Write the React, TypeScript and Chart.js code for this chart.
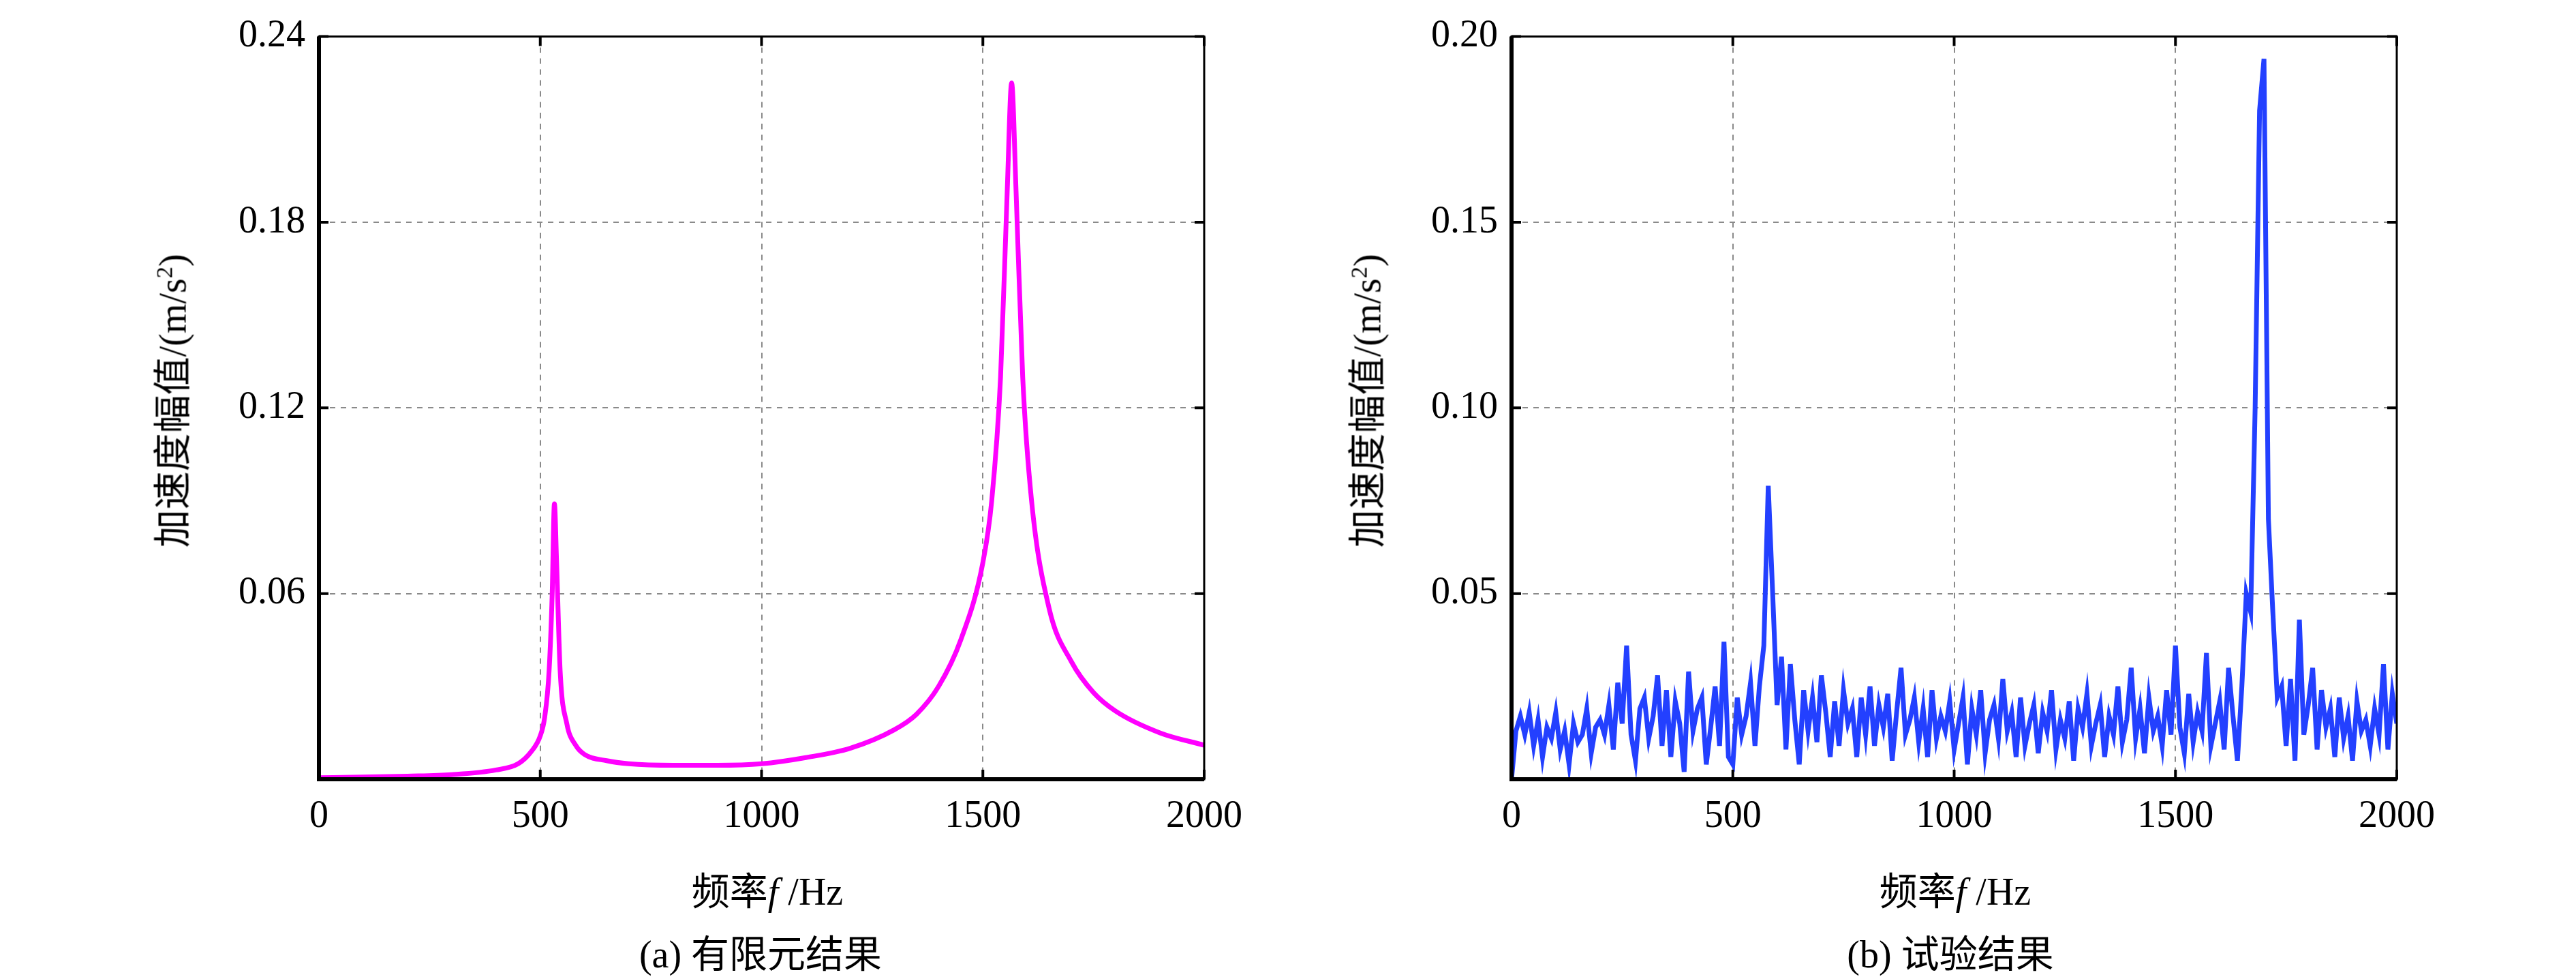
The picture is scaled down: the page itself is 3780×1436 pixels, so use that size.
import React, { useEffect, useRef } from "react";
import { Chart, registerables } from "chart.js";
Chart.register(...registerables);

const feFreq = [0, 100, 200, 300, 400, 450, 480, 500, 510, 520, 527, 532, 537, 545, 560, 580, 600, 650, 700, 800, 900, 1000, 1100, 1200, 1300, 1350, 1400, 1450, 1500, 1520, 1540, 1555, 1565, 1575, 1590, 1610, 1650, 1700, 1750, 1800, 1900, 2000];
const feAmp = [0.0005, 0.0007, 0.001, 0.0015, 0.003, 0.005, 0.009, 0.014, 0.02, 0.035, 0.06, 0.089, 0.07, 0.035, 0.018, 0.011, 0.008, 0.006, 0.005, 0.0045, 0.0045, 0.005, 0.007, 0.01, 0.016, 0.021, 0.03, 0.045, 0.07, 0.09, 0.13, 0.19, 0.225, 0.19, 0.13, 0.09, 0.055, 0.038, 0.028, 0.022, 0.015, 0.011];

const expStepHz = 10;
const expAmp = [
  0.0, 0.013, 0.017, 0.012, 0.018, 0.009, 0.016, 0.006, 0.014, 0.011, 0.018, 0.008, 0.013, 0.004, 0.015, 0.010, 0.012, 0.019, 0.007, 0.014,
  0.016, 0.012, 0.020, 0.008, 0.026, 0.015, 0.036, 0.012, 0.005, 0.019, 0.022, 0.011, 0.017, 0.028, 0.009, 0.024, 0.006, 0.021, 0.015, 0.002,
  0.029, 0.013, 0.019, 0.022, 0.004, 0.014, 0.025, 0.009, 0.037, 0.006, 0.004, 0.022, 0.012, 0.017, 0.026, 0.009, 0.025, 0.036, 0.079, 0.050,
  0.020, 0.033, 0.008, 0.031, 0.016, 0.004, 0.024, 0.013, 0.022, 0.010, 0.028, 0.018, 0.006, 0.021, 0.009, 0.024, 0.015, 0.019, 0.006, 0.022,
  0.012, 0.025, 0.009, 0.020, 0.014, 0.023, 0.005, 0.018, 0.030, 0.012, 0.016, 0.022, 0.010, 0.019, 0.006, 0.024, 0.011, 0.017, 0.013, 0.021,
  0.008, 0.015, 0.022, 0.004, 0.019, 0.012, 0.024, 0.007, 0.016, 0.020, 0.011, 0.027, 0.013, 0.018, 0.006, 0.022, 0.009, 0.015, 0.020, 0.007,
  0.018, 0.013, 0.024, 0.008, 0.016, 0.011, 0.021, 0.005, 0.019, 0.014, 0.023, 0.009, 0.015, 0.020, 0.006, 0.017, 0.012, 0.025, 0.010, 0.016,
  0.030, 0.011, 0.019, 0.007, 0.022, 0.013, 0.017, 0.009, 0.024, 0.012, 0.036, 0.014, 0.007, 0.023, 0.010, 0.018, 0.013, 0.034, 0.009, 0.015,
  0.021, 0.008, 0.030, 0.017, 0.005, 0.025, 0.050, 0.045, 0.100, 0.180, 0.194, 0.070, 0.045, 0.022, 0.025, 0.009, 0.027, 0.005, 0.043, 0.012,
  0.020, 0.030, 0.008, 0.024, 0.014, 0.019, 0.006, 0.022, 0.011, 0.017, 0.005, 0.021, 0.013, 0.016, 0.009, 0.019, 0.012, 0.031, 0.008, 0.023,
  0.015,
];

const xTicks = [0, 500, 1000, 1500, 2000];
const feYTicks = [0.06, 0.12, 0.18, 0.24];
const expYTicks = [0.05, 0.1, 0.15, 0.2];

const SERIF = "'Liberation Serif', 'Times New Roman', serif";
const CJK = "'Noto Sans CJK SC', sans-serif";

const boxPlugin = {
  id: "box",
  afterDraw(chart: any) {
    const { ctx, chartArea: a, scales } = chart;
    ctx.save();
    ctx.strokeStyle = "#000";
    ctx.lineWidth = 3;
    ctx.strokeRect(a.left, a.top, a.right - a.left, a.bottom - a.top);
    ctx.lineWidth = 6;
    ctx.beginPath();
    ctx.moveTo(a.left, a.top); ctx.lineTo(a.left, a.bottom); ctx.lineTo(a.right, a.bottom);
    ctx.stroke();
    ctx.lineWidth = 4;
    const L = 14;
    scales.x.ticks.forEach((t: any) => {
      const px = scales.x.getPixelForValue(t.value);
      ctx.beginPath();
      ctx.moveTo(px, a.bottom); ctx.lineTo(px, a.bottom - L);
      ctx.moveTo(px, a.top); ctx.lineTo(px, a.top + L);
      ctx.stroke();
    });
    scales.y.ticks.forEach((t: any) => {
      const py = scales.y.getPixelForValue(t.value);
      ctx.beginPath();
      ctx.moveTo(a.left, py); ctx.lineTo(a.left + L, py);
      ctx.moveTo(a.right, py); ctx.lineTo(a.right - L, py);
      ctx.stroke();
    });
    ctx.restore();
  },
};

function Panel(props: { points: { x: number; y: number }[]; color: string; yMax: number; yTicks: number[]; digits: number; smooth: boolean }) {
  const ref = useRef<HTMLCanvasElement>(null);
  useEffect(() => {
    const grid = { color: "#8a8a8a", lineWidth: 2, drawTicks: false };
    const chart = new Chart(ref.current!, {
      type: "line",
      data: { datasets: [{ data: props.points, borderColor: props.color, borderWidth: 7, pointRadius: 0, tension: props.smooth ? 0.4 : 0, cubicInterpolationMode: props.smooth ? "monotone" : "default" } as any] },
      options: {
        animation: false,
        responsive: false,
        plugins: { legend: { display: false }, tooltip: { enabled: false } },
        layout: { padding: { left: 0, top: 14, right: 133, bottom: 0 } },
        scales: {
          x: {
            type: "linear", min: 0, max: 2000,
            afterBuildTicks: (s: any) => { s.ticks = xTicks.map((v) => ({ value: v })); },
            afterFit: (s: any) => { s.height = 293; },
            grid: grid as any,
            border: { display: false, dash: [8, 8] } as any,
            ticks: { color: "#000", font: { family: SERIF, size: 56 }, padding: 22, maxRotation: 0, callback: (v: any) => String(v) },
          },
          y: {
            type: "linear", min: 0, max: props.yMax,
            afterBuildTicks: (s: any) => { s.ticks = props.yTicks.map((v) => ({ value: v })); },
            afterFit: (s: any) => { s.width = 468; },
            grid: grid as any,
            border: { display: false, dash: [8, 8] } as any,
            ticks: { color: "#000", font: { family: SERIF, size: 56 }, padding: 20, callback: (v: any) => Number(v).toFixed(props.digits) },
          },
        },
      },
      plugins: [boxPlugin],
    });
    return () => chart.destroy();
  }, []);
  return <canvas ref={ref} width={1900} height={1436} style={{ width: 1900, height: 1436, display: "block" }} />;
}

const abs = (s: React.CSSProperties): React.CSSProperties => ({ position: "absolute", whiteSpace: "nowrap", color: "#000", ...s });

function XTitle({ cx }: { cx: number }) {
  return (
    <div style={abs({ left: cx, top: 1302, transform: "translate(-50%,-50%)", fontSize: 56 })}>
      <span style={{ fontFamily: CJK }}>频率</span>
      <span style={{ fontFamily: SERIF, fontStyle: "italic" }}>f</span>
      <span style={{ fontFamily: SERIF }}> /Hz</span>
    </div>
  );
}
function YTitle({ cx }: { cx: number }) {
  return (
    <div style={abs({ left: cx, top: 588, transform: "translate(-50%,-50%) rotate(-90deg)", fontSize: 56 })}>
      <span style={{ fontFamily: CJK }}>加速度幅值</span>
      <span style={{ fontFamily: SERIF }}>/(m/s<sup style={{ fontSize: 34 }}>2</sup>)</span>
    </div>
  );
}

export default function App() {
  const fePts = feFreq.map((f, i) => ({ x: f, y: feAmp[i] }));
  const expPts = expAmp.map((v, i) => ({ x: i * expStepHz, y: v }));
  return (
    <div style={{ position: "absolute", left: 0, top: 0, width: 3780, height: 1436, background: "#fff", overflow: "hidden" }}>
      <div style={abs({ left: 0, top: 0 })}>
        <Panel points={fePts} color="#ff00ff" yMax={0.24} yTicks={feYTicks} digits={2} smooth={true} />
      </div>
      <div style={abs({ left: 1750, top: 0 })}>
        <Panel points={expPts} color="#2340ff" yMax={0.2} yTicks={expYTicks} digits={2} smooth={false} />
      </div>
      <XTitle cx={1126} />
      <XTitle cx={2869} />
      <YTitle cx={248} />
      <YTitle cx={2001} />
      <div style={abs({ left: 1116, top: 1394, transform: "translate(-50%,-50%)", fontSize: 56 })}>
        <span style={{ fontFamily: SERIF }}>(a) </span><span style={{ fontFamily: CJK }}>有限元结果</span>
      </div>
      <div style={abs({ left: 2862, top: 1394, transform: "translate(-50%,-50%)", fontSize: 56 })}>
        <span style={{ fontFamily: SERIF }}>(b) </span><span style={{ fontFamily: CJK }}>试验结果</span>
      </div>
    </div>
  );
}
